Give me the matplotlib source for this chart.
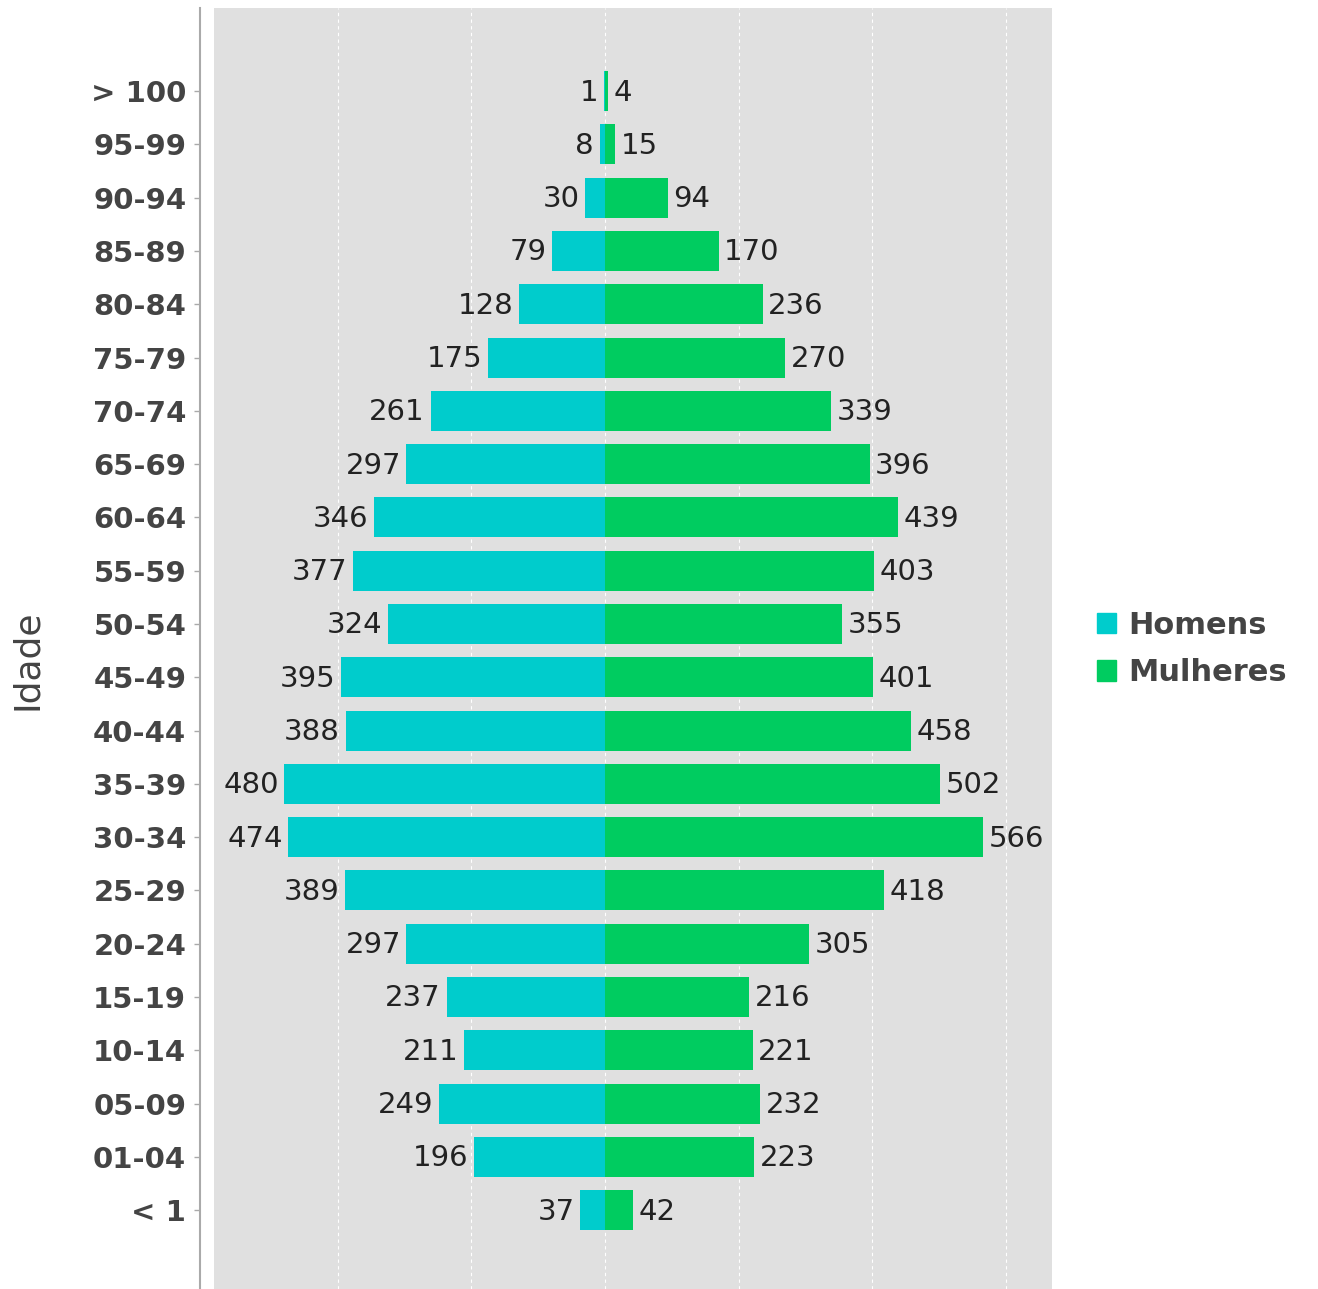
import numpy as np
import matplotlib.pyplot as plt
from matplotlib.patches import Patch

# age groups, top to bottom as drawn
faixas = ['> 100', '95-99', '90-94', '85-89', '80-84', '75-79', '70-74', '65-69',
          '60-64', '55-59', '50-54', '45-49', '40-44', '35-39', '30-34', '25-29',
          '20-24', '15-19', '10-14', '05-09', '01-04', '< 1']
homens = [1, 8, 30, 79, 128, 175, 261, 297, 346, 377, 324, 395, 388, 480, 474,
          389, 297, 237, 211, 249, 196, 37]
mulheres = [4, 15, 94, 170, 236, 270, 339, 396, 439, 403, 355, 401, 458, 502, 566,
            418, 305, 216, 221, 232, 223, 42]

cor_h = '#00cccc'
cor_m = '#00cc60'
cinza = '#444444'

fig = plt.figure(figsize=(13.18, 12.89), dpi=100)
ax = fig.add_axes([214/1318, 0.0, (1052-214)/1318, 1 - 8/1289])
ax.set_facecolor('#e0e0e0')

# spines first (set_position resets the tick properties)
for s in ['top', 'right', 'bottom']:
    ax.spines[s].set_visible(False)
ax.spines['left'].set_position(('outward', 10))
ax.spines['left'].set_color('#aaaaaa')
ax.spines['left'].set_linewidth(1.5)

y = np.arange(len(faixas))[::-1]
h = np.array(homens)
m = np.array(mulheres)

ax.barh(y, -h, height=0.75, color=cor_h, zorder=2)
ax.barh(y, m, height=0.75, color=cor_m, zorder=2)

for yi, v in zip(y, h):
    ax.annotate(str(v), (-v, yi), xytext=(-4, -1), textcoords='offset points',
                ha='right', va='center', fontsize=21, color='#222222')
for yi, v in zip(y, m):
    ax.annotate(str(v), (v, yi), xytext=(4, -1), textcoords='offset points',
                ha='left', va='center', fontsize=21, color='#222222')

ax.set_xlim(-585, 669)
ax.set_ylim(-1.48, len(faixas) - 1 + 1.56)
ax.set_xticks([-400, -200, 0, 200, 400, 600])
ax.grid(axis='x', color='white', linestyle=(0, (3, 3)), linewidth=0.8, zorder=1)
ax.tick_params(axis='x', which='both', bottom=False, labelbottom=False)

ax.set_yticks(y)
ax.set_yticklabels(faixas, fontsize=21, fontweight='bold', color=cinza)
ax.tick_params(axis='y', length=4, width=1, color='#aaaaaa', pad=6)

fig.text(27/1318, 1 - 660/1289, 'Idade', rotation=90, fontsize=26, color=cinza,
         ha='center', va='center')

handles = [Patch(color=cor_h, label='Homens'), Patch(color=cor_m, label='Mulheres')]
leg = fig.legend(handles=handles, loc='center left',
                 bbox_to_anchor=(1076/1318, 1 - 649/1289),
                 frameon=False, handlelength=0.6, handleheight=0.65,
                 handletextpad=0.42, labelspacing=0.6, borderpad=0.2,
                 prop={'size': 22, 'weight': 'bold'})
for t in leg.get_texts():
    t.set_color(cinza)

fig.savefig('out.png', dpi=100)
